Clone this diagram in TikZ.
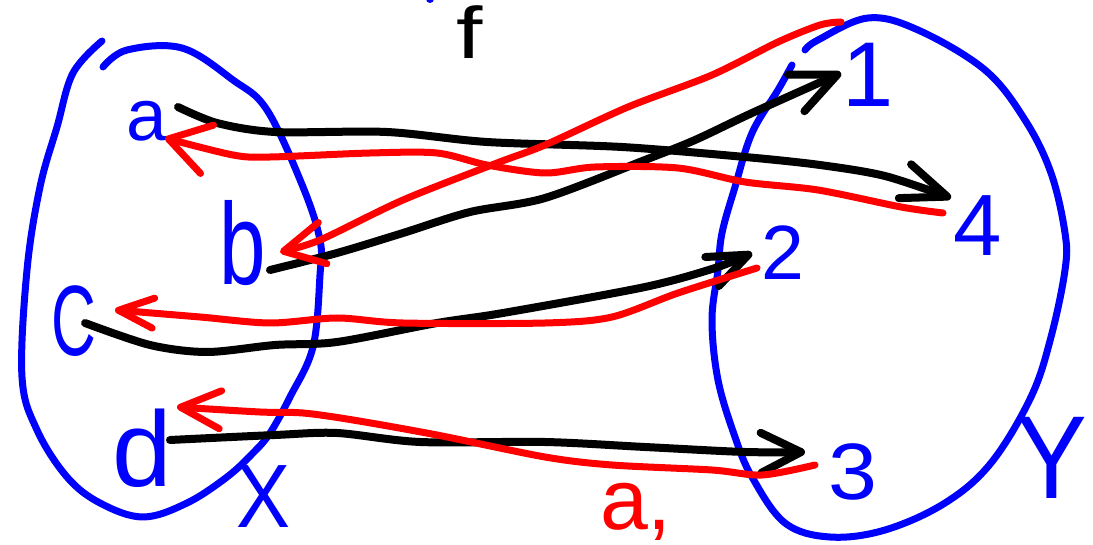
\documentclass[tikz,border=0pt]{standalone}
\usepackage{fontspec}
\setmainfont{Liberation Sans}
\usetikzlibrary{arrows.meta}
\begin{document}
\begin{tikzpicture}[x=1pt,y=-1pt,
  lbl/.style={inner sep=0pt, text=blue},
  setline/.style={draw=blue, line width=7pt, line cap=round, line join=round},
  blk/.style={draw=black, line width=8pt, line cap=round, line join=round},
  rd/.style={draw=red, line width=7pt, line cap=round, line join=round},
  fs/.style={font=\fontsize{#1}{#1}\selectfont}]
\useasboundingbox (0,0) rectangle (1093,545);

% sets
\draw[setline] plot[smooth, tension=0.6] coordinates {(103,67) (127,50) (182,48) (233,80) (267,110) (303,187) (320,240) (320,275) (313,347) (290,397) (270,433) (253,453) (227,477) (187,503) (143,517) (100,503) (67,477) (37,430) (22,377) (27,270) (40,187) (57,127) (73,73) (102,41)};
\draw[setline] plot[smooth, tension=0.6] coordinates {(805,50) (818,40) (868,18) (918,30) (985,70) (1025,120) (1051,173) (1065,233) (1065,270) (1051,337) (1031,397) (991,463) (945,503) (885,530) (830,537) (785,523) (752,477) (735,437) (718,380) (712,320) (718,270) (722,233) (735,187) (752,133) (778,90) (792,65)};
\fill[blue] (430,-1) circle (4);

% labels
\node[lbl, fs=73] (a) at (147,121) {a};
\node[lbl, fs=116, xscale=0.72] (b) at (243,243) {b};
\node[lbl, fs=100, xscale=0.62] (c) at (74,321) {C};
\node[lbl, fs=107] (d) at (142,448) {d};
\node[lbl, fs=90, xscale=0.9] (X) at (264,497) {X};
\node[lbl, fs=92] (n1) at (868,75) {1};
\node[lbl, fs=77] (n2) at (783,253) {2};
\node[lbl, fs=80, xscale=1.1] (n3) at (853,472) {3};
\node[lbl, fs=87] (n4) at (978,226) {4};
\node[lbl, fs=118, xscale=0.9] (Y) at (1052,458) {Y};
\node[inner sep=0pt, fs=73, xscale=1.3] (f) at (470,32) {f};
\node[inner sep=0pt, text=red, fs=86, anchor=base] (g) at (636,529) {a,};

% end points
\coordinate (sa) at (178,107);
\coordinate (e4) at (951,198);
\coordinate (sb) at (270,270);
\coordinate (e1) at (841,73);
\coordinate (sc) at (85,323);
\coordinate (e2) at (752,253);
\coordinate (sd) at (170,440);
\coordinate (e3) at (805,452);
\coordinate (r4) at (943,213);
\coordinate (ta) at (165,138);
\coordinate (r1) at (841,22);
\coordinate (tb) at (280,252);
\coordinate (r2) at (757,268);
\coordinate (tc) at (115,310);
\coordinate (r3) at (815,465);
\coordinate (td) at (177,407);

% f (black)
\draw[blk, -{Straight Barb[length=45pt, width=36pt, round]}] plot[smooth, tension=0.5] coordinates {(sa) (217,123) (275,132) (387,132) (487,142) (622,147) (745,157) (820,165) (885,176) (e4)};
\draw[blk, -{Straight Barb[length=45pt, width=40pt, round]}] plot[smooth, tension=0.5] coordinates {(sb) (337,253) (403,233) (470,212) (545,198) (645,160) (695,140) (752,113) (e1)};
\draw[blk, -{Straight Barb[length=40pt, width=32pt, round]}] plot[smooth, tension=0.5] coordinates {(sc) (150,345) (207,352) (275,345) (337,342) (437,323) (503,313) (645,287) (715,268) (e2)};
\draw[blk, -{Straight Barb[length=40pt, width=40pt, round]}] plot[smooth, tension=0.5] coordinates {(sd) (275,435) (337,433) (420,442) (545,442) (645,447) (745,452) (e3)};

% inverse (red)
\draw[rd, -{Straight Barb[length=40pt, width=50pt, round]}] plot[smooth, tension=0.5] coordinates {(r4) (901,207) (818,190) (745,182) (678,168) (595,167) (545,173) (487,165) (437,153) (370,153) (270,157) (233,155) (ta)};
\draw[rd, -{Straight Barb[length=40pt, width=42pt, round]}] plot[smooth, tension=0.5] coordinates {(r1) (820,25) (778,42) (712,75) (628,107) (545,145) (497,163) (403,200) (320,240) (tb)};
\draw[rd, -{Straight Barb[length=35pt, width=30pt, round]}] plot[smooth, tension=0.5] coordinates {(r2) (678,293) (612,317) (545,323) (403,323) (337,318) (270,323) (200,317) (tc)};
\draw[rd, -{Straight Barb[length=40pt, width=38pt, round]}] plot[smooth, tension=0.5] coordinates {(r3) (762,475) (712,470) (612,465) (545,457) (437,435) (353,420) (303,413) (260,412) (td)};
\end{tikzpicture}
\end{document}
